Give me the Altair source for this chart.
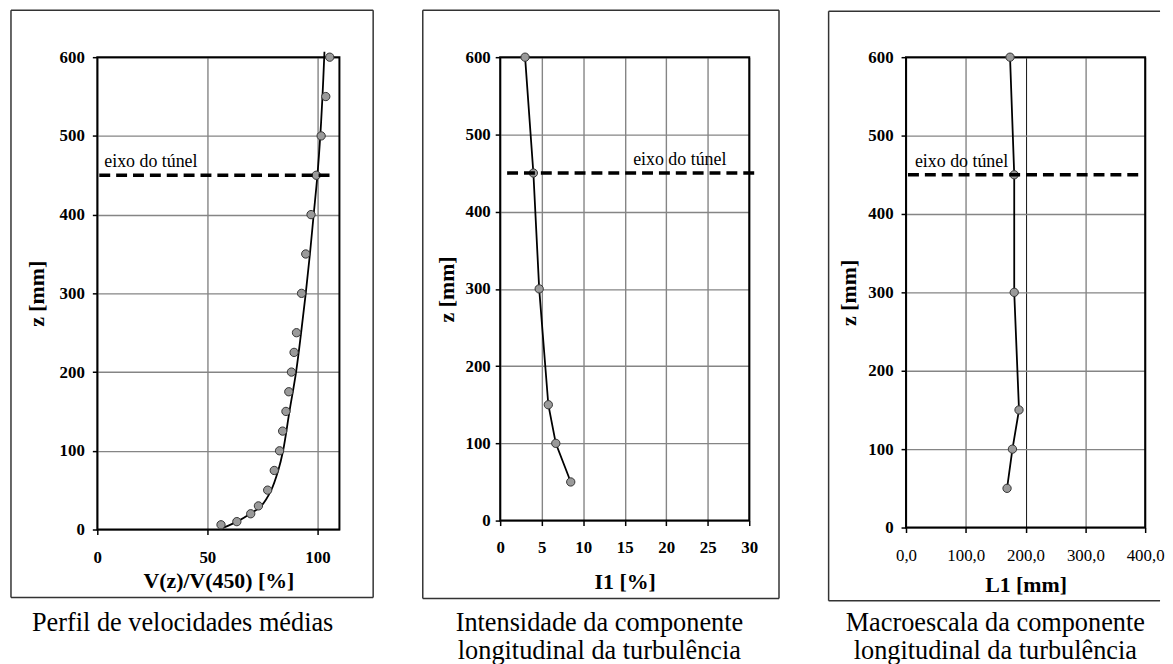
import altair as alt
import pandas as pd

FONT = "Liberation Serif"

# ---------------- data ----------------
# Panel 1: mean velocity profile (points) and fitted curve
vel_z = [6, 10, 20, 30, 50, 75, 100, 125, 150, 175, 200, 225, 250, 300, 350, 400, 450, 500, 550, 600]
vel_v = [56.2, 63.4, 69.7, 73.2, 77.4, 80.4, 82.8, 84.2, 85.7, 87.0, 88.2, 89.4, 90.5, 92.8, 94.7, 97.1, 99.5, 101.7, 103.8, 105.6]
fit_z = [2, 10, 20, 30, 50, 75, 100, 150, 200, 250, 300, 350, 400, 450, 500, 550, 607]
fit_v = [57.0, 63.5, 69.5, 74.5, 79.0, 82.2, 84.4, 87.3, 90.3, 92.6, 94.7, 96.6, 98.3, 100.0, 101.3, 102.3, 103.2]

# Panel 2: longitudinal turbulence intensity
int_z = [600, 450, 300, 150, 100, 50]
int_v = [3.0, 4.0, 4.7, 5.8, 6.7, 8.5]

# Panel 3: longitudinal integral length scale
len_z = [600, 450, 300, 150, 100, 50]
len_v = [174, 181, 181, 189, 178, 169]

TUNNEL_Z = 450
TUNNEL_LABEL = "eixo do túnel"
Y_TITLE = "z [mm]"
X_TITLES = ["V(z)/V(450) [%]", "I1 [%]", "L1 [mm]"]
CAPTIONS = [
    ["Perfil de velocidades médias"],
    ["Intensidade da componente", "longitudinal da turbulência"],
    ["Macroescala da componente", "longitudinal da turbulência"],
]
Y_TICKS = [0, 100, 200, 300, 400, 500, 600]
X_TICKS = [[0, 50, 100], [0, 5, 10, 15, 20, 25, 30], [0, 100, 200, 300, 400]]
X_DOMAINS = [[0, 110], [0, 30], [0, 400]]

one = pd.DataFrame({"k": [0]})


def hline(x1, x2, y, color="#333333", w=1.5):
    return alt.Chart(one).mark_rule(color=color, strokeWidth=w).encode(
        x=alt.value(x1), x2=alt.value(x2), y=alt.value(y))


def vline(x, y1, y2, color="#333333", w=1.5):
    return alt.Chart(one).mark_rule(color=color, strokeWidth=w).encode(
        x=alt.value(x), y=alt.value(y1), y2=alt.value(y2))


def panel(i, pts, line, w, h, frame, sides, ytitle_x, ylab_pad, xtitle_y, xlab_pad,
          tun_x, tun_text_x, cap_x, cap_y, cap_step, xlab_expr=None, xlab_bold=True, grid_cond=False):
    xaxis = dict(values=X_TICKS[i], title=X_TITLES[i], grid=True, domain=False,
                 tickSize=5, tickColor="black", tickWidth=1.5,
                 labelFont=FONT, labelFontSize=17, labelColor="black",
                 labelFontWeight="bold" if xlab_bold else "normal",
                 labelBaseline="middle", labelPadding=xlab_pad, labelFlush=False,
                 titleFont=FONT, titleFontSize=22, titleFontWeight="bold", titleColor="black",
                 titleX=w / 2, titleY=xtitle_y, titleBaseline="middle", titleAlign="center",
                 gridColor="#858585", gridWidth=1.4)
    if xlab_expr:
        xaxis["labelExpr"] = xlab_expr
    if grid_cond:
        xaxis["gridColor"] = {"condition": {"test": "datum.value === 200", "value": "#111111"}, "value": "#858585"}
        xaxis["gridWidth"] = {"condition": {"test": "datum.value === 200", "value": 1.0}, "value": 1.4}
    yaxis = dict(values=Y_TICKS, title=Y_TITLE, grid=True, domain=False,
                 tickSize=5, tickColor="black", tickWidth=1.5,
                 labelFont=FONT, labelFontSize=17, labelColor="black", labelFontWeight="bold",
                 labelPadding=ylab_pad,
                 titleFont=FONT, titleFontSize=22, titleFontWeight="bold", titleColor="black",
                 titleX=ytitle_x, titleY=h / 2, titleAngle=270, titleBaseline="middle",
                 titleAlign="center", gridColor="#858585", gridWidth=1.4)

    X = alt.X("v:Q", scale=alt.Scale(domain=X_DOMAINS[i], nice=False, zero=False), axis=alt.Axis(**xaxis))
    Y = alt.Y("z:Q", scale=alt.Scale(domain=[0, 600], nice=False), axis=alt.Axis(**yaxis))

    fx1, fx2, fy1, fy2 = frame
    layers = []
    if "t" in sides:
        layers.append(hline(fx1, fx2, fy1))
    if "b" in sides:
        layers.append(hline(fx1, fx2, fy2))
    if "l" in sides:
        layers.append(vline(fx1, fy1, fy2))
    if "r" in sides:
        layers.append(vline(fx2, fy1, fy2))

    # plot-area border
    border = alt.Chart(one).mark_rect(fillOpacity=0, stroke="black", strokeWidth=2).encode(
        x=alt.value(0), x2=alt.value(w), y=alt.value(0), y2=alt.value(h))

    line_chart = alt.Chart(line).mark_line(color="black", strokeWidth=1.8,
                                           interpolate="catmull-rom" if i == 0 else "linear").encode(
        x=X, y=Y, order=alt.Order("z:Q"))
    pts_chart = alt.Chart(pts).mark_circle(size=70, color="#9a9a9a", opacity=1,
                                           stroke="#333333", strokeWidth=1).encode(x=X, y=Y)

    rule = alt.Chart(one).mark_rule(color="black", strokeWidth=3.6, strokeDash=[11, 6]).encode(
        y=alt.datum(TUNNEL_Z), x=alt.value(tun_x[0]), x2=alt.value(tun_x[1]))
    tun_text = alt.Chart(one).mark_text(font=FONT, fontSize=18, align="left", baseline="middle",
                                        dy=-13, color="black").encode(
        y=alt.datum(TUNNEL_Z), x=alt.value(tun_text_x), text=alt.value(TUNNEL_LABEL))

    caps = []
    for j, txt in enumerate(CAPTIONS[i]):
        caps.append(alt.Chart(one).mark_text(font=FONT, fontSize=26.5, align="center",
                                             baseline="middle", color="black").encode(
            x=alt.value(cap_x), y=alt.value(cap_y + cap_step * j), text=alt.value(txt)))

    data_layers = [line_chart, pts_chart]

    return alt.layer(*layers, border, *data_layers, rule, tun_text, *caps).properties(width=w, height=h)


p1 = panel(0, pd.DataFrame({"v": vel_v, "z": vel_z}), pd.DataFrame({"v": fit_v, "z": fit_z}),
           w=244, h=476, frame=(-87, 278, -47.4, 544.6), sides="tblr",
           ytitle_x=-61, ylab_pad=8, xtitle_y=51.4, xlab_pad=23.2, tun_x=(2, 240), tun_text_x=7,
           cap_x=86, cap_y=569.9, cap_step=28.2)
p2 = panel(1, pd.DataFrame({"v": int_v, "z": int_z}), pd.DataFrame({"v": int_v, "z": int_z}),
           w=251, h=467, frame=(-78, 281, -47.4, 545.6), sides="tblr",
           ytitle_x=-54, ylab_pad=5, xtitle_y=61.5, xlab_pad=22.2, tun_x=(7, 257), tun_text_x=134,
           cap_x=100, cap_y=569.9, cap_step=28.2)
p3 = panel(2, pd.DataFrame({"v": len_v, "z": len_z}), pd.DataFrame({"v": len_v, "z": len_z}),
           w=241, h=474, frame=(-78, 256, -46.4, 547.7), sides="tbl",
           ytitle_x=-58, ylab_pad=8, xtitle_y=57.5, xlab_pad=23.2, tun_x=(2, 240), tun_text_x=9,
           cap_x=90, cap_y=569.9, cap_step=28.2, xlab_expr="replace(format(datum.value, '.1f'), '.', ',')",
           xlab_bold=False, grid_cond=True)

chart = alt.hconcat(p1, p2, p3, spacing=46).properties(
    padding={"left": 1, "top": -2, "right": 0, "bottom": 0}
).configure_view(stroke="transparent")

chart.save("out.html", embed_options={"renderer": "svg", "actions": False})
